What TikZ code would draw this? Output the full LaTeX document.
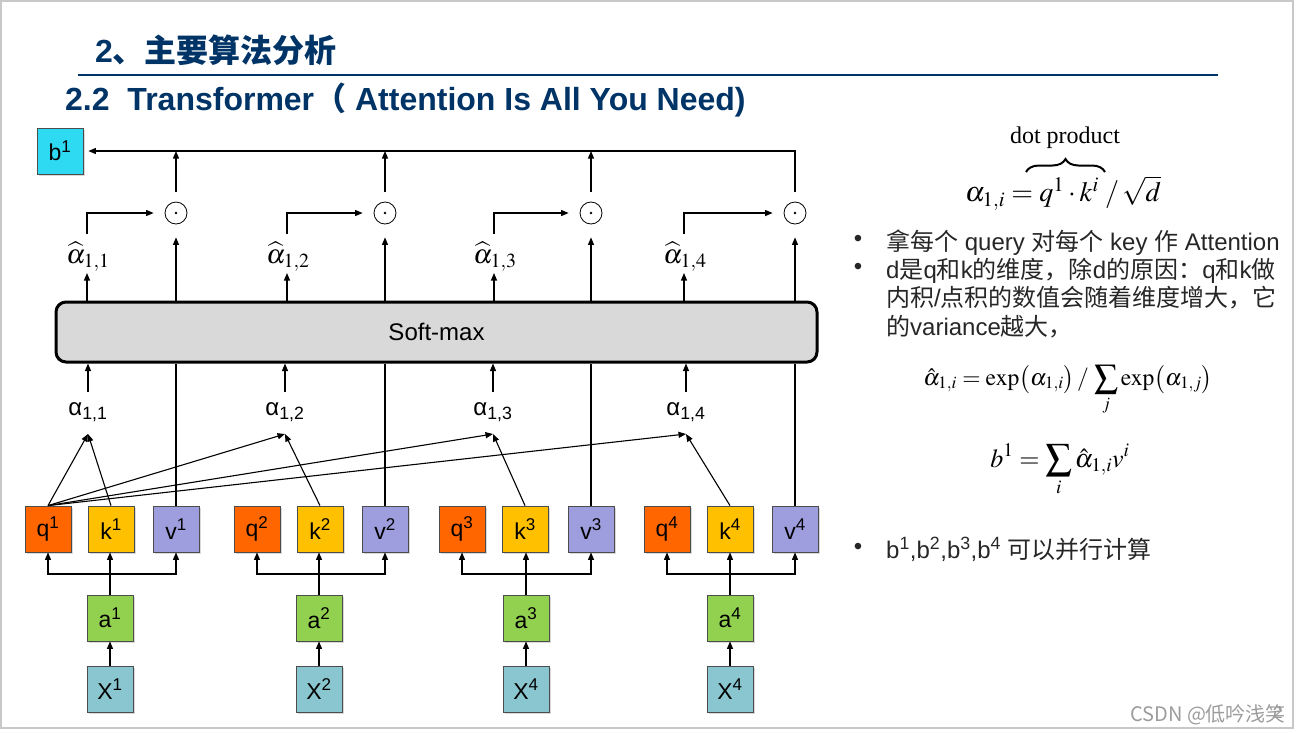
\documentclass[tikz,border=0pt]{standalone}
\usepackage{mathptmx}
\usepackage[no-math]{fontspec}
\setmainfont{Liberation Sans}
\newfontfamily\cjk{Noto Sans CJK SC}
\newfontfamily\tnr{Liberation Serif}
\usetikzlibrary{arrows.meta,shadows,decorations.pathreplacing,calc}
\definecolor{titleblue}{HTML}{003366}
\definecolor{qcol}{HTML}{FF6600}
\definecolor{kcol}{HTML}{FFC000}
\definecolor{vcol}{HTML}{9E9EDE}
\definecolor{acol}{HTML}{92D050}
\definecolor{xcol}{HTML}{8AC6CF}
\definecolor{bcol}{HTML}{2DDAF2}
\definecolor{smgray}{HTML}{D9D9D9}
\definecolor{framegray}{HTML}{C8C8C8}
\definecolor{footgray}{HTML}{9C9C9C}
\definecolor{bodytext}{HTML}{262626}
\begin{document}
\begin{tikzpicture}[x=1pt,y=-1pt,
  box/.style={draw=black!70, line width=0.8pt, minimum width=46pt, minimum height=46pt, inner sep=0pt,
    font=\fontsize{23}{25}\selectfont,
    drop shadow={shadow xshift=1.5pt, shadow yshift=-1.5pt, opacity=0.3}},
  arr/.style={line width=1.1pt, -{Triangle[length=7.5pt,width=6pt]}},
  ln/.style={line width=1.1pt},
  odot/.style={circle, draw, line width=0.8pt, minimum size=22pt, inner sep=0pt,
    path picture={\fill (path picture bounding box.center) circle (1.4pt);}},
  albl/.style={font=\fontsize{24}{26}\selectfont, inner sep=1pt},
  hlbl/.style={font=\fontsize{27}{30}\selectfont, inner sep=1pt},
  txt/.style={font=\fontsize{24}{28}\selectfont, text=bodytext, inner sep=0pt, anchor=base west},
  bul/.style={font=\fontsize{24}{28}\selectfont, text=bodytext, inner sep=0pt}]
\useasboundingbox (0,0) rectangle (1296,732);
\draw[framegray, line width=1.5pt] (1,1) rectangle (1293,728);

% titles
\node[anchor=west, inner sep=0pt, text=titleblue, font=\fontsize{32}{36}\selectfont\bfseries] (t1) at (95,50) {2{\cjk 、主要算法分析}};
\draw[titleblue, line width=2pt] (78,75) -- (1218,75);
\node[anchor=west, inner sep=0pt, text=titleblue, font=\fontsize{32}{36}\selectfont\bfseries] (t2) at (65,100) {2.2~~Transformer{\cjk （}~Attention Is All You Need)};

% output box
\node[box, fill=bcol] (b1) at (60,151) {b\textsuperscript{1}};

% q k v boxes
\foreach \i/\x in {1/48,2/257,3/462,4/667}
  \node[box, fill=qcol] (q\i) at (\x,529) {q\textsuperscript{\i}};
\foreach \i/\x in {1/111,2/320,3/525,4/730}
  \node[box, fill=kcol] (k\i) at (\x,529) {k\textsuperscript{\i}};
\foreach \i/\x in {1/176,2/385,3/591,4/795}
  \node[box, fill=vcol] (v\i) at (\x,529) {v\textsuperscript{\i}};
\foreach \i/\x in {1/110,2/319,3/526,4/730}
  \node[box, fill=acol] (a\i) at (\x,618) {a\textsuperscript{\i}};
\foreach \i/\x/\s in {1/110/1,2/319/2,3/526/4,4/730/4}
  \node[box, fill=xcol] (X\i) at (\x,689) {X\textsuperscript{\s}};

% softmax
\node[draw, line width=3pt, rounded corners=10pt, fill=smgray, minimum width=761pt, minimum height=60pt,
  font=\fontsize{24}{28}\selectfont] (sm) at (436.5,332) {Soft-max};

% alpha labels
\foreach \i/\x in {1/88,2/285,3/493,4/686}
  \node[albl] (al\i) at (\x,412) {α\textsubscript{1,\i}};
% alpha-hat labels
\foreach \i/\x in {1/88,2/288,3/495,4/685}
  \node[hlbl] (ah\i) at (\x,257) {$\widehat{\alpha}_{1,\i}$};
% odot nodes
\foreach \i/\x in {1/176,2/385,3/591,4/795}
  \node[odot] (o\i) at (\x,213) {};

% input connectors
\foreach \i in {1,...,4} {
  \coordinate (j\i) at (a\i.north |- 0,574);
  \draw[arr] (X\i) -- (a\i);
  \draw[line width=2pt] (a\i.north) -- (j\i);
  \draw[arr] (j\i) -- (j\i |- k\i.south);
  \draw[arr] (j\i) -| (q\i.south);
  \draw[arr] (j\i) -| (v\i.south);
}

% attention score connectors
\foreach \i in {1,...,4} {
  \coordinate (t\i) at ($(al\i.center)+(0,22)$);
  \coordinate (hb\i) at ($(ah\i.center)+(-1,16)$);
  \coordinate (ht\i) at ($(ah\i.center)+(-1,-23)$);
  \draw[arr] (q1.north) -- (t\i);
  \draw[arr] (k\i.north) -- (t\i);
  \draw[arr] ($(al\i.center)+(0,-20)$) -- (al\i.center |- sm.south);
  \draw[ln] (v\i.north) -- (v\i.north |- sm.south);
  \draw[arr, shorten >=13pt] (v\i.north |- sm.north) -- (o\i.south);
  \draw[arr] (hb\i |- sm.north) -- (hb\i);
  \draw[arr, shorten >=11pt] (ht\i) |- (o\i.west);
}
\foreach \i in {1,2,3}
  \draw[arr, shorten <=10pt] (o\i.north) -- (o\i.north |- b1.east);
\draw[arr, shorten <=10pt, shorten >=5pt] (o4.north) |- (b1.east);

% right column
\node[inner sep=0pt, font=\fontsize{24}{28}\selectfont\tnr] (dp) at (1065,138) {dot product};
\node[inner sep=0pt, font=\fontsize{28}{32}\selectfont] (f1) at (1063,193) {$\alpha_{1,i} = q^1 \cdot k^i \;/\, \sqrt{d}$};
\draw[line width=2pt, decorate, decoration={brace, amplitude=13pt}] (1026,172) -- (1105,172);

\node[bul] (b1l) at (858,241) {•};
\node[txt] (l1) at (886,250) {{\cjk 拿每个} query {\cjk 对每个} key {\cjk 作} Attention};
\node[bul] (b2l) at (858,269) {•};
\node[txt] (l2) at (886,278) {d{\cjk 是}q{\cjk 和}k{\cjk 的维度，除}d{\cjk 的原因：}q{\cjk 和}k{\cjk 做}};
\node[txt] (l3) at (886,306) {{\cjk 内积}/{\cjk 点积的数值会随着维度增大，它}};
\node[txt] (l4) at (886,335) {{\cjk 的}variance{\cjk 越大，}};

\node[inner sep=0pt, font=\fontsize{23.5}{28}\selectfont] (f2) at (1068,390) {$\displaystyle \hat{\alpha}_{1,i} = \exp\bigl(\alpha_{1,i}\bigr) \,/\, \sum_j \exp\bigl(\alpha_{1,j}\bigr)$};
\node[inner sep=0pt, font=\fontsize{26}{30}\selectfont] (f3) at (1060,470) {$\displaystyle b^1 = \sum_i \hat{\alpha}_{1,i} v^i$};

\node[bul] (b5l) at (858,549) {•};
\node[txt] (l5) at (886,558) {b\textsuperscript{1},b\textsuperscript{2},b\textsuperscript{3},b\textsuperscript{4} {\cjk 可以并行计算}};

% footer
\node[inner sep=0pt, anchor=base west, text=footgray, font=\fontsize{20}{22}\selectfont\cjk] (ft) at (1130,721) {CSDN @低吟浅笑};
\node[inner sep=0pt, text=footgray, font=\fontsize{17}{20}\selectfont] (pg) at (1278,713) {2};
\end{tikzpicture}
\end{document}
